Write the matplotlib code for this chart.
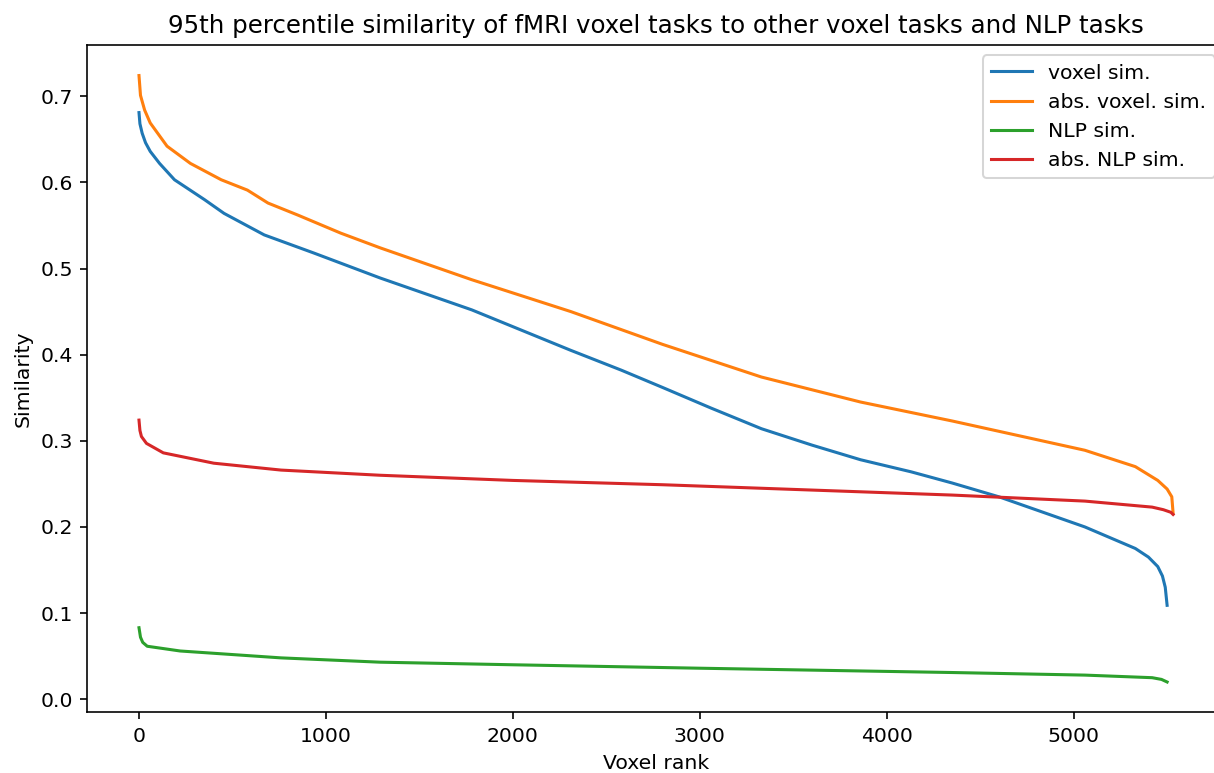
"""95th percentile similarity of voxel tasks."""

import matplotlib
matplotlib.use('Agg')
import matplotlib.pyplot as plt

# %% Data

voxel_rank = [0, 5, 17, 35, 60, 110, 190, 350, 455, 670, 935, 1290, 1780,
              2310, 2580, 2800, 3060, 3330, 3600, 3860, 4130, 4350, 4600,
              5060, 5330, 5400, 5450, 5475, 5490, 5500]
voxel_sim = [0.681, 0.668, 0.657, 0.646, 0.636, 0.622, 0.603, 0.580, 0.564,
             0.539, 0.518, 0.489, 0.452, 0.405, 0.382, 0.362, 0.338, 0.314,
             0.295, 0.278, 0.264, 0.251, 0.235, 0.200, 0.175, 0.165, 0.154,
             0.143, 0.130, 0.109]

abs_voxel_rank = [0, 8, 30, 60, 150, 275, 440, 580, 690, 850, 1080, 1290,
                  1780, 2310, 2800, 3330, 3860, 4350, 5060, 5330, 5450, 5500,
                  5525, 5532]
abs_voxel_sim = [0.724, 0.701, 0.684, 0.669, 0.642, 0.622, 0.603, 0.591,
                 0.576, 0.562, 0.541, 0.524, 0.487, 0.450, 0.412, 0.374,
                 0.345, 0.323, 0.289, 0.270, 0.254, 0.244, 0.235, 0.216]

nlp_rank = [0, 8, 20, 44, 220, 760, 1290, 2000, 3000, 4350, 5060, 5420,
            5470, 5500]
nlp_sim = [0.083, 0.072, 0.066, 0.0615, 0.056, 0.048, 0.043, 0.040, 0.036,
           0.031, 0.028, 0.025, 0.023, 0.020]

abs_nlp_rank = [0, 5, 13, 40, 130, 400, 760, 1290, 2000, 2800, 4350, 5060,
                5420, 5480, 5520, 5532]
abs_nlp_sim = [0.324, 0.312, 0.305, 0.297, 0.286, 0.274, 0.266, 0.260,
               0.254, 0.249, 0.237, 0.230, 0.223, 0.220, 0.217, 0.2145]

# %% Plot

dpi = 147
fig = plt.figure(figsize=(1214 / dpi, 773 / dpi), dpi=dpi)
# axes run past the right edge, as in the cropped original
ax = fig.add_axes([0.0719, 0.0785, 0.937, 0.863])

ax.plot(voxel_rank, voxel_sim, label='voxel sim.')
ax.plot(abs_voxel_rank, abs_voxel_sim, label='abs. voxel. sim.')
ax.plot(nlp_rank, nlp_sim, label='NLP sim.')
ax.plot(abs_nlp_rank, abs_nlp_sim, label='abs. NLP sim.')

ax.set_title('95th percentile similarity of fMRI voxel tasks to other '
             'voxel tasks and NLP tasks')
ax.set_xlabel('Voxel rank')
ax.set_ylabel('Similarity')
ax.set_xticks([0, 1000, 2000, 3000, 4000, 5000])
ax.legend(loc='upper right')

plt.savefig('out.png', dpi=dpi)
